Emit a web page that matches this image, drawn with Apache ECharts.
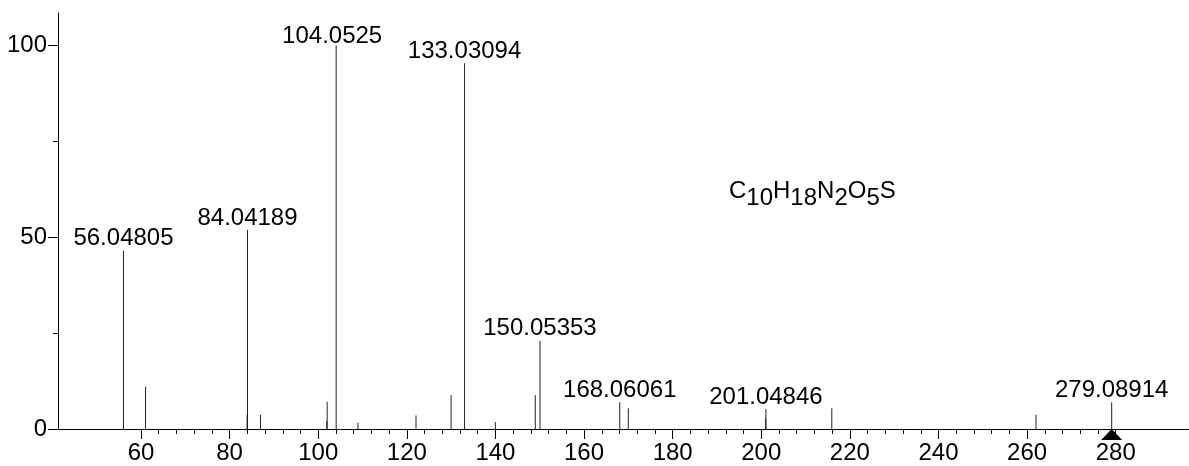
<!DOCTYPE html>
<html>
<head>
<meta charset="utf-8">
<script src="https://cdn.jsdelivr.net/npm/echarts@6/dist/echarts.min.js"></script>
<style>
html,body{margin:0;padding:0;background:#fff;}
#chart{width:1189px;height:466px;}
</style>
</head>
<body>
<div id="chart"></div>
<script>
// ---- data ----
const mz        = [56.04805, 61.03, 83.95, 84.04189, 86.97, 101.95, 102.02, 104.0525, 108.98, 122.07, 129.99, 133.03094, 139.98, 148.99, 150.05353, 168.06061, 169.99, 201.0, 201.04846, 215.92, 262.0, 279.08914];
const intensity = [46.5, 11.0, 3.7, 51.9, 3.7, 2.0, 7.1, 100, 1.65, 3.5, 8.9, 95.4, 1.8, 8.9, 23.0, 6.95, 5.4, 2.8, 5.2, 5.4, 3.7, 7.0];
const peakLabels = ['56.04805', '', '', '84.04189', '', '', '', '104.0525', '', '', '', '133.03094', '', '', '150.05353', '168.06061', '', '', '201.04846', '', '', '279.08914'];
const precursorMz = [279.08914];
const yMajorTicks = [0, 50, 100];
const yMinorTicks = [25, 75];
const xMajorTicks = [60, 80, 100, 120, 140, 160, 180, 200, 220, 240, 260, 280];
const xMinorTicks = [];
for (let v = 64; v < 280; v += 4) { if (v % 20 !== 0) xMinorTicks.push(v); }
const formula = [['C','10'],['H','18'],['N','2'],['O','5'],['S','']];

// ---- chart ----
const FONT = "'Liberation Sans', Arial, Helvetica, sans-serif";
const X_MIN = 41.27, X_MAX = 296.54, Y_MIN = 0, Y_MAX = 108.5;
const labelOffsets = {'104.0525': [-4, 3]};

const chart = echarts.init(document.getElementById('chart'), null, {renderer: 'canvas'});

const barData = mz.map((x, i) => {
  const item = {value: [x, intensity[i]]};
  if (peakLabels[i]) {
    item.label = {
      show: true, position: 'top', distance: 0,
      formatter: peakLabels[i],
      offset: labelOffsets[peakLabels[i]] || [0, 0],
      fontFamily: FONT, fontSize: 24, color: '#000'
    };
  }
  return item;
});

let richText = '';
formula.forEach(([el, n]) => {
  richText += '{m|' + el + '}';
  if (n) richText += '{s|' + n + '}';
});

const baseX = {type: 'value', min: X_MIN, max: X_MAX, splitLine: {show: false}};
const baseY = {type: 'value', min: Y_MIN, max: Y_MAX, splitLine: {show: false}};

const option = {
  animation: false,
  backgroundColor: '#fff',
  grid: {left: 58, right: 0, top: 13, bottom: 37, containLabel: false},
  xAxis: [
    Object.assign({}, baseX, {
      position: 'bottom',
      axisLine: {show: true, onZero: false, lineStyle: {color: '#000', width: 1}},
      axisTick: {show: true, inside: false, length: 10, lineStyle: {color: '#000'}, customValues: xMajorTicks},
      axisLabel: {show: true, margin: 12, fontFamily: FONT, fontSize: 24, color: '#000', customValues: xMajorTicks}
    }),
    Object.assign({}, baseX, {
      position: 'bottom',
      offset: 0,
      axisLine: {show: false, onZero: false},
      axisTick: {show: true, inside: false, length: 5, lineStyle: {color: '#000'}, customValues: xMinorTicks},
      axisLabel: {show: false}
    })
  ],
  yAxis: [
    Object.assign({}, baseY, {
      position: 'left',
      axisLine: {show: true, onZero: false, lineStyle: {color: '#000', width: 1}},
      axisTick: {show: true, length: 10, lineStyle: {color: '#000'}, customValues: yMajorTicks},
      axisLabel: {show: true, margin: 11, fontFamily: FONT, fontSize: 24, color: '#000', customValues: yMajorTicks}
    }),
    Object.assign({}, baseY, {
      position: 'left',
      offset: 0,
      axisLine: {show: false, onZero: false},
      axisTick: {show: true, length: 5, lineStyle: {color: '#000'}, customValues: yMinorTicks},
      axisLabel: {show: false}
    })
  ],
  series: [
    {
      type: 'bar',
      xAxisIndex: 0, yAxisIndex: 0,
      barWidth: 1,
      itemStyle: {color: '#222'},
      data: barData,
      silent: true
    },
    {
      type: 'scatter',
      xAxisIndex: 0, yAxisIndex: 0,
      symbol: 'triangle',
      symbolSize: [21, 11],
      symbolOffset: [0, 5.5],
      itemStyle: {color: '#000', opacity: 1},
      clip: false,
      z: 5,
      data: precursorMz.map(x => [x, 0]),
      silent: true
    }
  ],
  graphic: [
    {
      type: 'text',
      left: 729, top: 179,
      style: {
        text: richText,
        fill: '#000',
        font: "24px " + FONT,
        rich: {
          m: {fontFamily: FONT, fontSize: 24, lineHeight: 24, verticalAlign: 'top', fill: '#000'},
          s: {fontFamily: FONT, fontSize: 24, lineHeight: 31, verticalAlign: 'bottom', fill: '#000'}
        }
      }
    }
  ]
};
chart.setOption(option);
</script>
</body>
</html>
